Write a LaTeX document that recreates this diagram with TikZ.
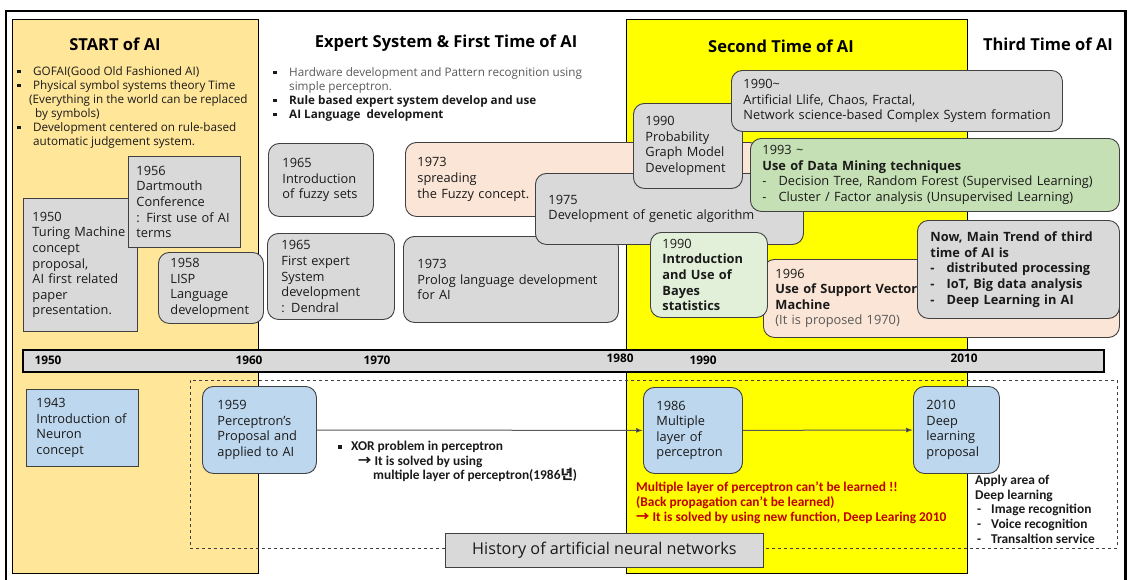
\documentclass[tikz,border=0pt]{standalone}
\usepackage{fontspec}
\setmainfont{Open Sans}
\newfontfamily\kr{Noto Sans CJK KR}
\newfontfamily\cb{Carlito}
\usetikzlibrary{arrows.meta}
\definecolor{startc}{HTML}{FFE699}
\definecolor{yel}{HTML}{FFFF00}
\definecolor{boxg}{HTML}{D9D9D9}
\definecolor{bord}{HTML}{404040}
\definecolor{peach}{HTML}{FBE5D6}
\definecolor{grn}{HTML}{C5E0B4}
\definecolor{lgrn}{HTML}{E2F0D9}
\definecolor{blu}{HTML}{BDD7EE}
\definecolor{dred}{HTML}{C00000}
\definecolor{txt}{HTML}{1A1A1A}
\definecolor{hw}{HTML}{595959}
\newcommand\sqb[1]{\makebox[#1][l]{\rule[1.8pt]{3.6pt}{3.6pt}}}
\begin{document}
\begin{tikzpicture}[x=1pt,y=-1pt,
  bx/.style={draw=bord, line width=0.9pt, anchor=north west, inner sep=0pt, align=left, text=txt, font=\fontsize{12.8}{15.6}\selectfont},
  gb/.style={bx, fill=boxg},
  bb/.style={bx, fill=blu},
  rb/.style={rounded corners=11pt},
  lp/.style={execute at begin node={\leftskip=#1pt\relax}},
  sz/.style n args={3}{minimum width=#1pt, text width=#1pt, minimum height=#2pt, lp=#3},
  ttl/.style={inner sep=0pt, text=black, font=\fontsize{16.5}{19}\selectfont\bfseries},
  bul/.style={anchor=north west, inner sep=0pt, align=left, text=txt, font=\fontsize{11.7}{14}\selectfont},
  yr/.style={inner sep=0pt, text=black, font=\fontsize{11.8}{13}\selectfont\bfseries},
  nar/.style={anchor=north west, inner sep=0pt, align=left, font=\cb\bfseries\fontsize{13.4}{14.6}\selectfont},
  arr/.style={draw=hw, line width=1pt, -{Latex[length=7pt,width=5pt,fill=black]}},
]
\useasboundingbox (0,0) rectangle (1132,579);
% panels
\node[draw=black, line width=0.9pt, fill=startc, anchor=north west, inner sep=0pt, minimum width=246pt, minimum height=554pt] (startp) at (12,19) {};
\node[draw=black, line width=1.2pt, fill=yel, anchor=north west, inner sep=0pt, minimum width=341pt, minimum height=554pt] (secp) at (626,19) {};
\draw[line width=2.6pt] (6,600) -- (6,11) -- (1125.5,11) -- (1125.5,600);
% titles
\node[ttl] (t1) at (115,44) {START of AI};
\node[ttl] (t2) at (446,43) {Expert System \& First Time of AI};
\node[ttl] (t3) at (781,46) {Second Time of AI};
\node[ttl] (t4) at (1048,44) {Third Time of AI};
% bullets
\node[bul] (sb) at (17,66) {\sqb{16pt}GOFAI(Good Old Fashioned AI)\\
\sqb{16pt}Physical symbol systems theory Time\\
\hspace*{12pt}(Everything in the world can be replaced\\
\hspace*{18pt}by symbols)\\
\sqb{16pt}Development centered on rule-based\\
\hspace*{16pt}automatic judgement system.};
\node[bul] (eb) at (273,67) {\sqb{16pt}{\color{hw}Hardware development and Pattern recognition using}\\
\hspace*{16pt}{\color{hw}simple perceptron.}\\
\sqb{16pt}\textbf{Rule based expert system develop and use}\\
\sqb{16pt}\textbf{AI Language~~development}};
% upper boxes
\node[gb, sz={114}{133}{9}] (turing) at (23,198) {1950\\Turing Machine\\concept\\proposal,\\AI first related\\paper\\presentation.};
\node[gb, sz={112}{91}{8}] (dart) at (128,156) {1956\\Dartmouth\\Conference\\: First use of AI\\terms};
\node[gb, rb, sz={105}{71}{12}] (lisp) at (158,252) {1958\\LISP\\Language\\development};
\node[gb, rb, sz={105}{73}{14}] (fuzzy) at (268,143) {1965\\Introduction\\of fuzzy sets};
\node[gb, rb, sz={127}{86}{14}] (expert) at (267,233) {1965\\First expert\\System\\development\\: Dendral};
\node[gb, rb, fill=peach, sz={355}{74}{12}] (spread) at (405,142) {1973\\spreading\\the Fuzzy concept.};
\node[gb, rb, sz={215}{86}{14}] (prolog) at (403,236) {1973\\Prolog language development\\for AI};
\node[gb, rb, sz={268}{71}{13}] (genetic) at (535,173) {1975\\Development of genetic algorithm};
\node[gb, rb, sz={109}{85}{12}] (prob) at (633,103) {1990\\Probability\\Graph Model\\Development};
\node[gb, rb, sz={331}{61}{12}] (alife) at (731,70) {1990\textasciitilde\\Artificial Llife, Chaos, Fractal,\\Network science-based Complex System formation};
\node[gb, rb, fill=grn, sz={369}{73}{12}] (mining) at (750,138) {1993 \textasciitilde\\\textbf{Use of Data Mining techniques}\\-\hspace{12pt}Decision Tree, Random Forest (Supervised Learning)\\-\hspace{12pt}Cluster / Factor analysis (Unsupervised Learning)};
\node[gb, rb, fill=peach, sz={356}{78}{12}] (svm) at (763,259) {1996\\\textbf{Use of Support Vector}\\\textbf{Machine}\\{\color{hw}(It is proposed 1970)}};
\node[gb, rb, fill=lgrn, sz={117}{85}{12}] (bayes) at (650,232) {1990\\\textbf{Introduction}\\\textbf{and Use of}\\\textbf{Bayes}\\\textbf{statistics}};
\node[gb, rb, sz={202}{98}{13}] (now) at (917,220) {\textbf{Now, Main Trend of third}\\\textbf{time of AI is}\\\textbf{-\hspace{12pt}distributed processing}\\\textbf{-\hspace{12pt}IoT, Big data analysis}\\\textbf{-\hspace{12pt}Deep Learning in AI}};
% timeline
\node[draw=black, line width=2.2pt, fill=boxg, anchor=north west, inner sep=0pt, minimum width=1081pt, minimum height=22pt] (tline) at (22,349) {};
\node[yr] (y1950) at (48,360) {1950};
\node[yr] (y1960) at (249,360) {1960};
\node[yr] (y1970) at (377,360) {1970};
\node[yr] (y1980) at (620,358) {1980};
\node[yr] (y1990) at (703,360) {1990};
\node[yr] (y2010) at (964,358) {2010};
% neural network history
\node[draw=bord, dashed, line width=0.8pt, anchor=north west, inner sep=0pt, minimum width=927pt, minimum height=168pt] (nnbox) at (190,380) {};
\node[bb, sz={112}{77}{10}] (n1943) at (26,389) {1943\\Introduction of\\Neuron\\concept};
\node[bb, rb, sz={114}{87}{15}] (p1959) at (202,386) {1959\\Perceptron’s\\Proposal and\\applied to AI};
\node[bb, rb, sz={99}{86}{13}] (p1986) at (643,387) {1986\\Multiple\\layer of\\perceptron};
\node[bb, rb, sz={86}{87}{13}] (p2010) at (913,386) {2010\\Deep\\learning\\proposal};
\draw[arr] (p1959) -- (p1986);
\draw[arr] (p1986) -- (p2010);
\node[nar, text=txt] (xor) at (338,441) {\sqb{13pt}XOR problem in perceptron\\
\hspace*{20pt}{\kr →} It is solved by using\\
\hspace*{35pt}multiple layer of perceptron(1986{\kr 년})};
\node[nar, text=dred] (mlp) at (636,482) {Multiple layer of perceptron can’t be learned !!\\
(Back propagation can’t be learned)\\
{\kr →} It is solved by using new function, Deep Learing 2010};
\node[nar, text=txt] (apply) at (975,475) {Apply area of\\Deep learning\\
\makebox[16pt][l]{\hspace*{2pt}-}Image recognition\\
\makebox[16pt][l]{\hspace*{2pt}-}Voice recognition\\
\makebox[16pt][l]{\hspace*{2pt}-}Transaltion service};
\node[gb, align=center, minimum width=318pt, minimum height=34pt, font=\fontsize{16.2}{19}\selectfont] (hist) at (445,533) {History of artificial neural networks};
\end{tikzpicture}
\end{document}
